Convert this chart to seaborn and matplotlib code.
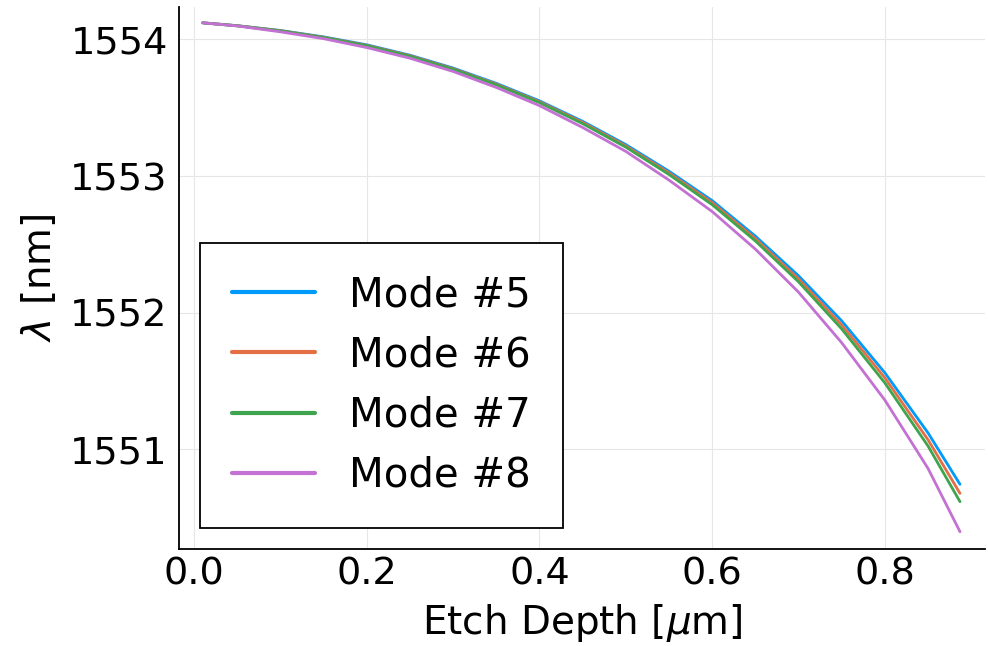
import pandas as pd
import seaborn as sns
import matplotlib.pyplot as plt

# Julia Plots default palette
COLORS = ["#009AFA", "#E36F47", "#3EA44E", "#C371D2"]

sns.set_theme(style="whitegrid")
plt.rcParams["font.family"] = ["DejaVu Sans"]
plt.rcParams["mathtext.fontset"] = "dejavusans"

# ----------------------------------------------------------------------
# DATA
# ----------------------------------------------------------------------
etch_depth = [0.01, 0.05, 0.10, 0.15, 0.20, 0.25, 0.30, 0.35, 0.40, 0.45,
              0.50, 0.55, 0.60, 0.65, 0.70, 0.75, 0.80, 0.85, 0.887]

mode5 = [1554.121, 1554.100, 1554.065, 1554.018, 1553.960, 1553.884, 1553.790,
         1553.678, 1553.550, 1553.400, 1553.230, 1553.035, 1552.820, 1552.560,
         1552.270, 1551.940, 1551.560, 1551.120, 1550.744]
mode6 = [1554.121, 1554.100, 1554.063, 1554.015, 1553.956, 1553.880, 1553.785,
         1553.672, 1553.543, 1553.392, 1553.220, 1553.023, 1552.805, 1552.542,
         1552.247, 1551.910, 1551.523, 1551.070, 1550.678]
mode7 = [1554.121, 1554.099, 1554.061, 1554.013, 1553.953, 1553.876, 1553.781,
         1553.667, 1553.537, 1553.383, 1553.211, 1553.011, 1552.790, 1552.525,
         1552.226, 1551.881, 1551.486, 1551.024, 1550.617]
mode8 = [1554.121, 1554.098, 1554.055, 1554.005, 1553.940, 1553.862, 1553.765,
         1553.648, 1553.515, 1553.355, 1553.180, 1552.970, 1552.740, 1552.465,
         1552.150, 1551.780, 1551.360, 1550.860, 1550.397]

mode_labels = ["Mode #5", "Mode #6", "Mode #7", "Mode #8"]
x_ticks = [0.0, 0.2, 0.4, 0.6, 0.8]
y_ticks = [1551, 1552, 1553, 1554]

frames = []
for label, vals in zip(mode_labels, [mode5, mode6, mode7, mode8]):
    frames.append(pd.DataFrame({"depth": etch_depth, "wavelength": vals, "mode": label}))
df = pd.concat(frames, ignore_index=True)

# ----------------------------------------------------------------------
# PLOT
# ----------------------------------------------------------------------
fig = plt.figure(figsize=(9.88, 6.46), dpi=100)
ax = fig.add_axes([0.181, 0.150, 0.816, 0.839])

sns.lineplot(
    data=df,
    x="depth",
    y="wavelength",
    hue="mode",
    palette=COLORS,
    linewidth=2,
    estimator=None,
    sort=False,
    ax=ax,
)

ax.set_xlim(-0.0177, 0.916)
ax.set_ylim(1550.27, 1554.236)
ax.set_xticks(x_ticks)
ax.set_xticklabels([f"{t:.1f}" for t in x_ticks])
ax.set_yticks(y_ticks)
ax.set_yticklabels([str(t) for t in y_ticks])

ax.set_facecolor("white")
ax.grid(True, color="#e6e6e6", linewidth=0.8)
for side in ["top", "right"]:
    ax.spines[side].set_visible(False)
for side in ["left", "bottom"]:
    ax.spines[side].set_visible(True)
    ax.spines[side].set_color("black")
    ax.spines[side].set_linewidth(1.3)

ax.tick_params(axis="both", direction="in", length=4, width=1, color="black",
               labelsize=27.5, labelcolor="black")
ax.tick_params(axis="y", pad=8)
ax.tick_params(axis="x", pad=5)

ax.set_xlabel(r"Etch Depth [$\mu$m]", fontsize=28, color="black", labelpad=7)
ax.set_ylabel(r"$\lambda$ [nm]", fontsize=28, color="black", labelpad=8)

leg = ax.legend(
    loc="lower left",
    bbox_to_anchor=(0.026, 0.039),
    borderaxespad=0,
    fontsize=29,
    frameon=True,
    fancybox=False,
    framealpha=1,
    edgecolor="black",
    handlelength=2.06,
    handletextpad=0.85,
    labelspacing=0.5,
    borderpad=0.8,
)
leg.get_frame().set_linewidth(1.3)
for text in leg.get_texts():
    text.set_color("black")
for line in leg.get_lines():
    line.set_linewidth(3)

fig.savefig("out.png", dpi=100)
plt.close(fig)
